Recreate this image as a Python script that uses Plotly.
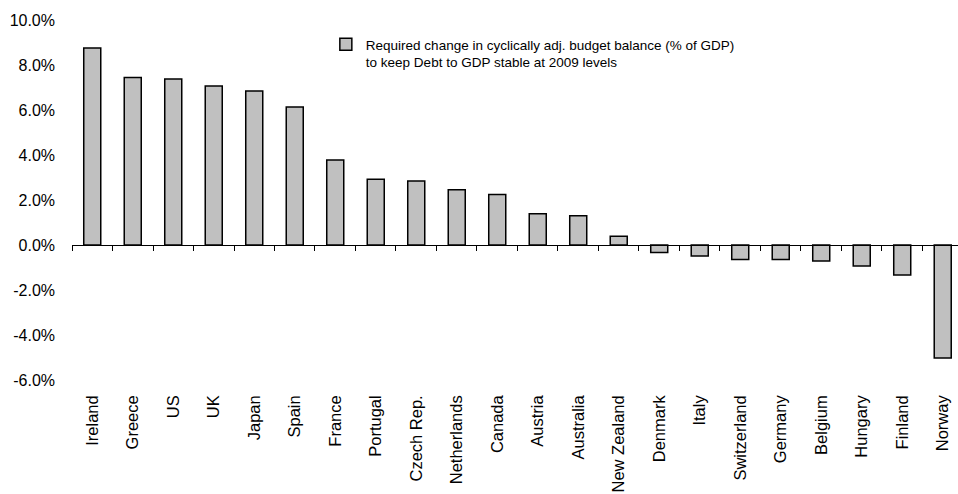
import plotly.graph_objects as go

# Required change in cyclically adjusted budget balance (% of GDP)
countries = ["Ireland", "Greece", "US", "UK", "Japan", "Spain", "France", "Portugal",
             "Czech Rep.", "Netherlands", "Canada", "Austria", "Australia", "New Zealand",
             "Denmark", "Italy", "Switzerland", "Germany", "Belgium", "Hungary",
             "Finland", "Norway"]
change_pct = [8.76, 7.45, 7.38, 7.07, 6.84, 6.13, 3.78, 2.92, 2.84, 2.46, 2.24,
              1.39, 1.30, 0.39, -0.33, -0.49, -0.64, -0.64, -0.71, -0.93, -1.33, -5.02]

y_tick_vals = [-6, -4, -2, 0, 2, 4, 6, 8, 10]
y_tick_text = ["-6.0%", "-4.0%", "-2.0%", "0.0%", "2.0%", "4.0%", "6.0%", "8.0%", "10.0%"]

series_name = ("Required change in cyclically adj. budget balance (% of GDP)<br>"
               "to keep Debt to GDP stable at 2009 levels")

x_pos = list(range(len(countries)))
boundaries = [i - 0.5 for i in range(len(countries) + 1)]

font_family = "Liberation Sans, Arial, sans-serif"

fig = go.Figure()
fig.add_trace(go.Bar(
    x=x_pos, y=change_pct, name=series_name, width=0.42,
    marker=dict(color="#C0C0C0", line=dict(color="#000000", width=1.5)),
    showlegend=True,
))

y_min, y_max = -6, 10
x_range = [-0.5, 21.377]

fig.update_layout(
    width=958, height=494,
    margin=dict(l=72, r=0, t=20, b=114, autoexpand=False),
    plot_bgcolor="white", paper_bgcolor="white",
    showlegend=True,
    legend=dict(x=0.2865, y=0.975, xanchor="left", yanchor="top",
                bgcolor="rgba(0,0,0,0)", valign="top",
                font=dict(family=font_family, size=13.5, color="#000000"),
                itemwidth=30, tracegroupgap=0),
    xaxis=dict(range=x_range, tickvals=x_pos, ticktext=countries, tickangle=-90,
               showgrid=False, zeroline=False, showline=False, ticks="",
               ticklabelstandoff=11, automargin=False,
               tickfont=dict(family=font_family, size=16.5, color="#000000")),
    # category axis drawn along the zero line, with ticks at category boundaries
    xaxis2=dict(overlaying="x", matches="x", anchor="free",
                position=(0 - y_min) / (y_max - y_min), side="bottom",
                showline=True, linecolor="#000000", linewidth=1.2,
                ticks="outside", ticklen=5, tickwidth=1.2, tickcolor="#000000",
                tickvals=boundaries, showticklabels=False, automargin=False,
                showgrid=False, zeroline=False),
    yaxis=dict(range=[y_min, y_max], tickvals=y_tick_vals, ticktext=y_tick_text,
               showgrid=False, zeroline=False, showline=False, ticks="",
               ticklabelstandoff=16, automargin=False,
               tickfont=dict(family=font_family, size=16, color="#000000")),
)

# invisible trace so the overlay axis is rendered
fig.add_trace(go.Scatter(x=[x_pos[0]], y=[None], xaxis="x2", yaxis="y",
                         showlegend=False, hoverinfo="skip"))

fig.write_html("out.html")
